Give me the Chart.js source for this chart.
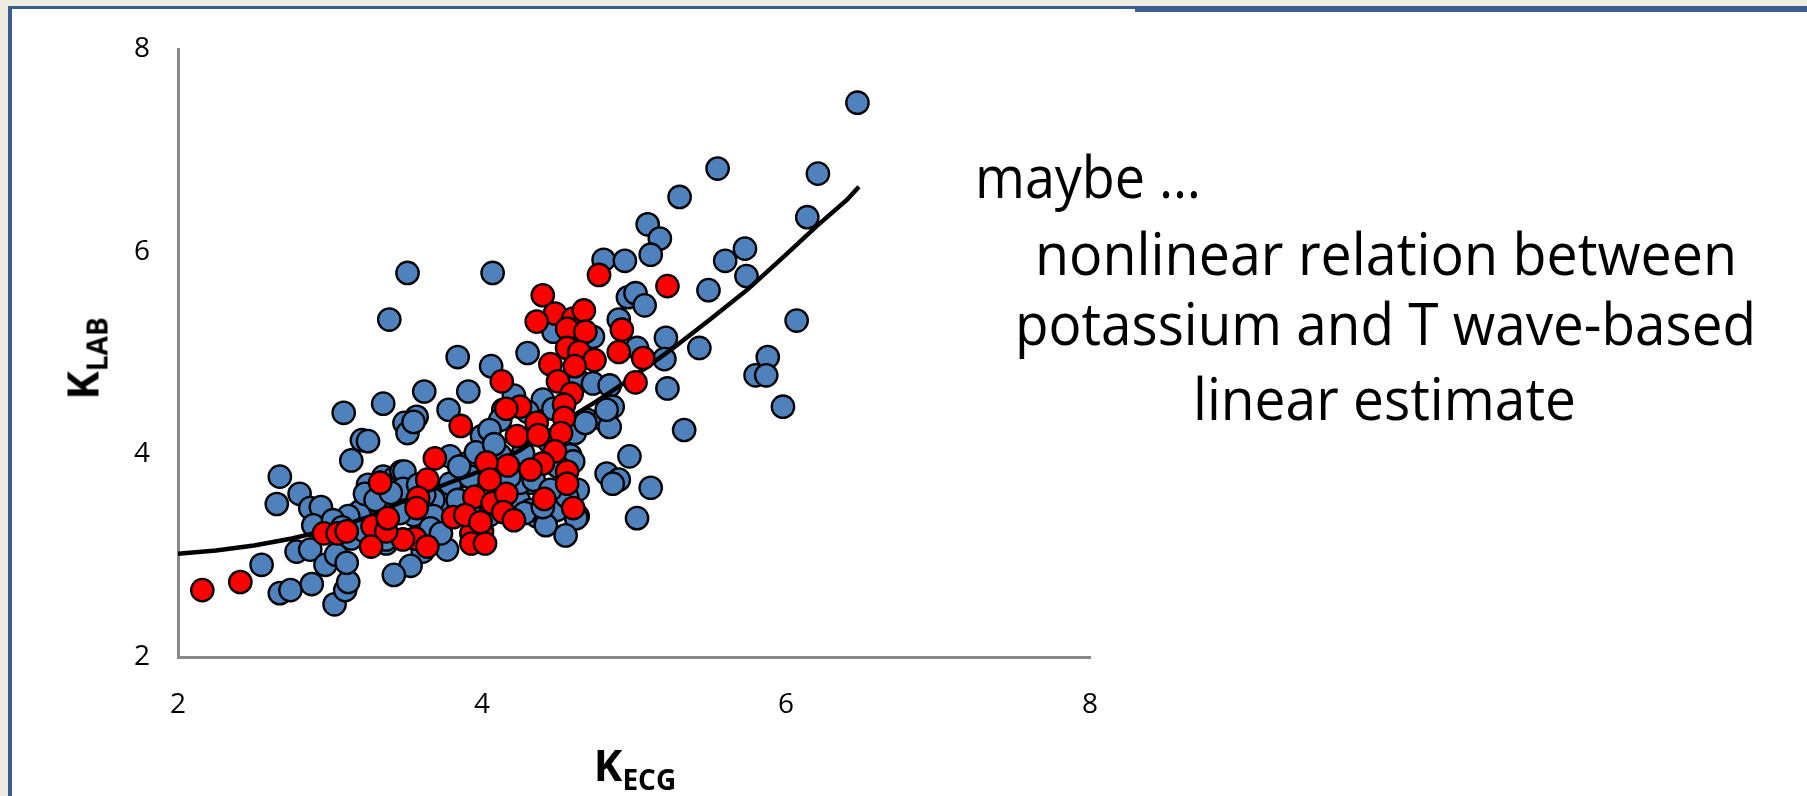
<!DOCTYPE html>
<html>
<head>
<meta charset="utf-8">
<title>K LAB vs K ECG</title>
<script src="https://cdn.jsdelivr.net/npm/chart.js@4.4.1/dist/chart.umd.min.js"></script>
<style>
  html, body { margin: 0; padding: 0; }
  body { width: 1807px; height: 796px; overflow: hidden; background: #EEEBE0; position: relative; font-family: 'Open Sans', sans-serif; }
  #panel { position: absolute; left: 8px; top: 6px; right: -20px; bottom: -20px; background: #fff;
           border-left: 4px solid #3B5E8E; border-top: 3px solid #3B5E8E; }
  #bar { position: absolute; left: 1135px; top: 6px; width: 680px; height: 6px; background: #3B5E8E; }
  #myChart { position: absolute; left: 0; top: 0; }
  .note { position: absolute; white-space: nowrap; font-size: 58px; line-height: 58px; color: #000; }
  .note span { display: inline-block; transform-origin: 0 0; }
  .title { position: absolute; font-weight: bold; color: #000; text-align: center; white-space: nowrap; }
  .title .sub { font-size: 28px; position: relative; top: 9px; }
</style>
</head>
<body>
<div id="panel"></div>
<div id="bar"></div>
<canvas id="myChart" width="1807" height="796"></canvas>

<div class="title" id="xTitle" style="left:435px; top:743px; width:400px; font-size:43px; line-height:43px;">K<span class="sub">ECG</span></div>
<div class="title" id="yTitle" style="left:-15px; top:334px; width:200px; font-size:43px; line-height:43px; transform:rotate(-90deg);">K<span class="sub">LAB</span></div>

<div class="note" id="n0"><span>maybe …</span></div>
<div class="note" id="n1"><span>nonlinear relation between</span></div>
<div class="note" id="n2"><span>potassium and T wave-based</span></div>
<div class="note" id="n3"><span>linear estimate</span></div>

<script>
// axis ticks
var xTicks = [2, 4, 6, 8];
var yTicks = [2, 4, 6, 8];

// blue points (all recordings): K_ECG and K_LAB
var blueX = [6.47, 5.55, 6.21, 5.30, 6.14, 5.09, 5.17, 5.11, 4.80, 4.94, 5.73, 5.60, 5.74, 5.49, 4.96, 5.01, 5.07, 6.07, 5.88, 5.80,
             5.87, 5.98, 5.43, 5.21, 5.20, 5.22, 5.33, 5.02, 4.90, 4.30, 4.07, 3.51, 3.39, 3.84, 4.06, 4.47, 4.73, 4.64, 4.73, 4.84,
             4.86, 4.21, 4.40, 4.14, 4.58, 4.69, 4.80, 4.84, 4.82, 4.97, 5.11, 4.82, 4.90, 4.86, 5.02, 3.91, 3.62, 3.35, 3.09, 3.78,
             3.49, 3.57, 3.51, 3.21, 3.25, 3.14, 2.67, 4.00, 2.55, 2.67, 2.74, 2.88, 3.03, 3.10, 3.12, 2.78, 2.87, 2.97, 3.04, 3.11,
             2.65, 2.80, 2.87, 2.94, 2.89, 3.14, 4.36, 4.49, 4.24, 4.32, 4.63, 3.79, 3.77, 3.61, 3.53, 3.42, 3.46, 3.26, 3.18, 3.37,
             3.86, 3.76, 3.68, 3.16, 3.24, 3.35, 3.53, 3.45, 3.55, 3.75, 3.25, 3.42, 3.47, 3.20, 3.12, 3.33, 3.23, 3.64, 3.55, 3.68,
             3.70, 3.37, 3.49, 3.48, 3.46, 3.68, 3.66, 3.73, 3.79, 3.84, 3.90, 3.92, 4.12, 4.27, 4.25, 4.16, 4.32, 4.63, 4.56, 4.60,
             4.44, 4.61, 4.68, 4.12, 4.05, 4.34, 4.62, 4.42, 4.55, 3.30, 3.40, 3.58, 3.62, 3.95, 4.05, 4.28, 4.40, 4.45, 4.50, 4.30,
             4.47, 3.96, 4.08, 3.85, 4.18, 3.02, 3.08, 3.22];
var blueY = [7.47, 6.82, 6.77, 6.54, 6.34, 6.27, 6.13, 5.97, 5.92, 5.91, 6.03, 5.91, 5.76, 5.62, 5.55, 5.59, 5.47, 5.32, 4.96, 4.78,
             4.78, 4.47, 5.05, 5.15, 4.94, 4.65, 4.24, 5.05, 5.33, 5.00, 5.79, 5.79, 5.33, 4.96, 4.87, 5.21, 5.16, 4.72, 4.70, 4.68,
             4.47, 4.58, 4.54, 4.44, 3.99, 4.34, 4.34, 4.27, 4.44, 3.98, 3.67, 3.81, 3.75, 3.71, 3.37, 4.62, 4.62, 4.50, 4.41, 4.44,
             4.31, 4.37, 4.21, 4.14, 4.13, 3.94, 3.78, 4.18, 2.91, 2.63, 2.66, 2.72, 2.52, 2.66, 2.74, 3.04, 3.06, 2.91, 3.01, 2.93,
             3.51, 3.61, 3.47, 3.48, 3.30, 3.17, 3.39, 3.45, 3.55, 3.72, 3.39, 3.98, 3.06, 3.04, 2.90, 2.81, 3.81, 3.65, 3.39, 3.12,
             3.78, 3.58, 3.32, 3.40, 3.42, 3.78, 3.68, 3.58, 4.32, 3.56, 3.70, 3.76, 3.83, 3.44, 3.39, 3.48, 3.61, 3.42, 3.40, 3.55,
             3.32, 3.16, 3.83, 3.66, 3.42, 3.39, 3.27, 3.22, 3.71, 3.55, 3.91, 3.78, 3.99, 4.01, 3.72, 3.61, 3.45, 3.65, 3.58, 3.93,
             4.13, 4.21, 4.31, 4.34, 4.24, 3.75, 3.37, 3.30, 3.20, 3.55, 3.62, 3.70, 3.60, 3.45, 3.40, 3.42, 3.48, 3.65, 3.88, 4.42,
             4.45, 4.02, 4.10, 3.88, 3.78, 3.35, 3.28, 3.25];

// red points (highlighted subset)
var redX = [4.77, 5.22, 5.06, 5.01, 4.92, 4.90, 4.40, 4.48, 4.36, 4.60, 4.67, 4.56, 4.68, 4.56, 4.64, 4.74, 4.45, 4.61, 4.50, 4.13,
            4.59, 4.54, 4.25, 4.16, 4.36, 4.54, 4.52, 4.23, 4.37, 4.48, 4.40, 4.32, 4.17, 4.03, 4.56, 4.56, 4.60, 4.41, 3.95, 4.07,
            4.16, 4.14, 4.21, 4.05, 4.00, 3.93, 3.93, 4.02, 3.81, 3.89, 3.99, 3.69, 3.64, 3.58, 3.57, 3.56, 3.64, 3.48, 3.33, 3.28,
            3.37, 3.38, 3.27, 3.86, 2.16, 2.41, 2.96, 3.05, 3.11];
var redY = [5.77, 5.66, 4.95, 4.71, 5.23, 5.01, 5.57, 5.39, 5.31, 5.34, 5.42, 5.24, 5.21, 5.05, 5.01, 4.93, 4.89, 4.87, 4.72, 4.72,
            4.60, 4.49, 4.47, 4.45, 4.31, 4.36, 4.21, 4.18, 4.19, 4.03, 3.91, 3.85, 3.89, 3.92, 3.83, 3.71, 3.47, 3.56, 3.58, 3.52,
            3.61, 3.43, 3.35, 3.75, 3.24, 3.22, 3.12, 3.12, 3.38, 3.40, 3.33, 3.96, 3.75, 3.57, 3.47, 3.17, 3.09, 3.16, 3.72, 3.29,
            3.24, 3.37, 3.09, 4.28, 2.66, 2.74, 3.22, 3.22, 3.24];

// nonlinear trend line
var fitX = [2.0, 2.25, 2.5, 2.75, 3.0, 3.25, 3.5, 3.75, 4.0, 4.25, 4.5, 4.75, 5.0, 5.25, 5.5, 5.75, 6.0, 6.2, 6.4, 6.48];
var fitY = [3.02, 3.05, 3.10, 3.17, 3.26, 3.38, 3.55, 3.70, 3.84, 4.04, 4.29, 4.52, 4.77, 5.04, 5.33, 5.63, 5.97, 6.25, 6.51, 6.64];

function pairs(xs, ys) {
    var out = [];
    for (var i = 0; i < xs.length; i++) {
        out.push({ x: xs[i], y: ys[i] });
    }
    return out;
}

var tickFont = { family: "'Open Sans', sans-serif", size: 28 };

function createChart() {
    var ctx = document.getElementById("myChart").getContext("2d");
    var myChart = new Chart(ctx, {
        type: 'scatter',
        data: {
            datasets: [
                {
                    label: 'fit',
                    type: 'line',
                    data: pairs(fitX, fitY),
                    borderColor: '#000000',
                    borderWidth: 4.5,
                    pointRadius: 0,
                    fill: false,
                    tension: 0,
                    order: 1
                },
                {
                    label: 'red',
                    data: pairs(redX, redY),
                    backgroundColor: '#FF0000',
                    borderColor: '#000000',
                    borderWidth: 2.3,
                    pointRadius: 11.2,
                    order: 0
                },
                {
                    label: 'blue',
                    data: pairs(blueX, blueY),
                    backgroundColor: '#4F81BD',
                    borderColor: '#000000',
                    borderWidth: 2.3,
                    pointRadius: 11.2,
                    order: 2
                }
            ]
        },
        options: {
            responsive: false,
            animation: false,
            devicePixelRatio: 1,
            layout: { padding: { left: 0, top: 49, right: 717, bottom: 0 } },
            plugins: { legend: { display: false }, tooltip: { enabled: false } },
            scales: {
                x: {
                    type: 'linear', min: 2, max: 8,
                    afterBuildTicks: function (s) { s.ticks = xTicks.map(function (v) { return { value: v }; }); },
                    ticks: { font: tickFont, color: '#000', padding: 31, maxRotation: 0 },
                    grid: { display: false, drawTicks: false },
                    border: { display: true, color: '#888888', width: 3 },
                    afterFit: function (s) { s.height = 139; s.paddingLeft = 0; s.paddingRight = 0; }
                },
                y: {
                    type: 'linear', min: 2, max: 8,
                    afterBuildTicks: function (s) { s.ticks = yTicks.map(function (v) { return { value: v }; }); },
                    ticks: { font: tickFont, color: '#000', padding: 28 },
                    grid: { display: false, drawTicks: false },
                    border: { display: true, color: '#888888', width: 3 },
                    afterFit: function (s) { s.width = 178; s.paddingTop = 0; s.paddingBottom = 0; }
                }
            }
        }
    });
    return myChart;
}

// annotation lines: left / right edges and baseline in page pixels
var noteBoxes = [
    { id: 'n0', left: 975, right: 1201, base: 198 },
    { id: 'n1', left: 1035, right: 1737, base: 275 },
    { id: 'n2', left: 1015, right: 1756, base: 345 },
    { id: 'n3', left: 1193, right: 1576, base: 420 }
];

function placeNotes() {
    noteBoxes.forEach(function (b) {
        var el = document.getElementById(b.id);
        var span = el.querySelector('span');
        var w = span.getBoundingClientRect().width;
        span.style.transform = 'scaleX(' + ((b.right - b.left) / w) + ')';
        el.style.left = b.left + 'px';
        el.style.top = (b.base - 51.5) + 'px';
    });
}

document.fonts.ready.then(function () {
    placeNotes();
    createChart();
});
</script>
</body>
</html>
